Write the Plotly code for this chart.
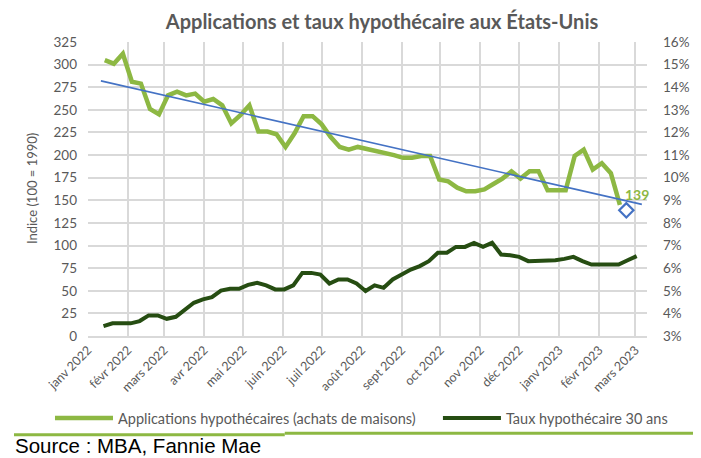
import pandas as pd
import plotly.graph_objects as go

TITLE = "Applications et taux hypothécaire aux États-Unis"
GREEN = "#8DB843"
DARK_GREEN = "#264D12"
BLUE = "#4472C4"
GRAY_TXT = "#595959"
GRID = "#D9D9D9"
FONT = "Lato"

# MBA purchase index (100 = 1990), weekly, Fridays from 2022-01-14
apps_dates = pd.date_range("2022-01-14", periods=58, freq="7D")
apps_values = [
    305, 301, 312,
    281, 279, 251, 245,
    266, 270, 266, 268,
    259, 262, 255, 235, 244,
    255, 226, 226, 223,
    209, 224, 243, 243,
    234, 220, 209, 206, 209,
    207, 205, 203, 200,
    197, 197, 199, 199, 173,
    171, 164, 160, 160,
    162, 168, 174, 182,
    174, 182, 182, 161, 161,
    161, 199, 206, 184,
    191, 180, 145,
]

# 30-year mortgage rate (%), weekly, Thursdays from 2022-01-13
rate_dates = pd.date_range("2022-01-13", periods=60, freq="7D")
rate_values = [
    3.44, 3.56, 3.56,
    3.56, 3.66, 3.91, 3.91,
    3.76, 3.85, 4.18, 4.47, 4.62,
    4.72, 5.01, 5.09, 5.09,
    5.26, 5.35, 5.24, 5.06,
    5.06, 5.24, 5.79, 5.79, 5.72,
    5.32, 5.50, 5.50, 5.32,
    4.99, 5.24, 5.13, 5.50,
    5.72, 5.94, 6.09, 6.31, 6.68,
    6.68, 6.94, 6.94, 7.12,
    6.94, 7.12, 6.60, 6.57,
    6.50, 6.31, 6.31, 6.31, 6.35,
    6.41, 6.50, 6.31, 6.16,
    6.16, 6.16, 6.16, 6.35,
    6.53,
]

# linear trend on the applications index (start / end)
trend_dates = ["2022-01-11", "2023-03-06"]
trend_values = [282, 145.5]

# latest reading, highlighted
latest_date = "2023-02-22"
latest_value = 139

month_ticks = pd.date_range("2022-01-01", "2023-03-01", freq="MS")
month_labels = [
    "janv 2022", "févr 2022", "mars 2022", "avr 2022", "mai 2022", "juin 2022",
    "juil 2022", "août 2022", "sept 2022", "oct 2022", "nov 2022", "déc 2022",
    "janv 2023", "févr 2023", "mars 2023",
]

fig = go.Figure()
fig.add_trace(go.Scatter(
    x=apps_dates, y=apps_values, mode="lines", legend="legend",
    name="Applications hypothécaires (achats de maisons)",
    line={"color": GREEN, "width": 4.5},
))
fig.add_trace(go.Scatter(
    x=rate_dates, y=rate_values, mode="lines", yaxis="y2", legend="legend2",
    name="Taux hypothécaire 30 ans",
    line={"color": DARK_GREEN, "width": 4},
))
fig.add_trace(go.Scatter(
    x=trend_dates, y=trend_values, mode="lines", showlegend=False,
    line={"color": BLUE, "width": 1.6},
))
fig.add_trace(go.Scatter(
    x=[latest_date], y=[latest_value], mode="markers", showlegend=False,
    marker={"symbol": "diamond-open", "size": 11, "color": BLUE, "line": {"width": 2.2, "color": BLUE}},
))

fig.add_annotation(
    x=latest_date, y=latest_value, text=f"<b>{latest_value}</b>", showarrow=False,
    xshift=11, yshift=16, font={"family": FONT, "size": 14, "color": GREEN},
)
fig.add_annotation(
    xref="paper", yref="paper", x=-0.100, y=0.5, xanchor="center", yanchor="middle",
    text="Indice (100 = 1990)", textangle=-90, showarrow=False,
    font={"family": FONT, "size": 13, "color": GRAY_TXT},
)
fig.add_annotation(
    xref="paper", yref="paper", x=-0.134, y=-0.374, xanchor="left", yanchor="middle",
    text="Source : MBA, Fannie Mae", showarrow=False,
    font={"family": "Liberation Sans", "size": 20.5, "color": "#000000"},
)

# green frame (right edge and bottom rule)
fig.add_shape(type="line", xref="paper", yref="paper", x0=1.0886, x1=1.0886, y0=1.15, y1=-0.333,
              line={"color": GREEN, "width": 3})
fig.add_shape(type="line", xref="paper", yref="paper", x0=-0.1324, x1=0.352, y0=-0.336, y1=-0.336,
              line={"color": GREEN, "width": 3})
fig.add_shape(type="line", xref="paper", yref="paper", x0=0.352, x1=1.0912, y0=-0.331, y1=-0.331,
              line={"color": GREEN, "width": 3})

legend_style = {
    "orientation": "h", "y": -0.279, "yanchor": "middle", "xanchor": "left",
    "font": {"family": FONT, "size": 14.5, "color": GRAY_TXT}, "itemwidth": 58,
    "bgcolor": "rgba(0,0,0,0)",
}

# the page body adds an 8px offset, so the figure is 8px smaller than the window
fig.update_layout(
    width=693,
    height=450,
    margin={"l": 80, "r": 54, "t": 34, "b": 122},
    paper_bgcolor="white",
    plot_bgcolor="white",
    font={"family": FONT, "color": GRAY_TXT},
    title={"text": f"<b>{TITLE}</b>", "x": 0.526, "xref": "paper", "xanchor": "center",
           "y": 0.969, "yref": "container", "yanchor": "middle",
           "font": {"family": FONT, "size": 20, "color": GRAY_TXT}},
    legend={**legend_style, "x": -0.068},
    legend2={**legend_style, "x": 0.626},
    showlegend=True,
)
fig.update_xaxes(
    type="date", range=["2022-01-01", "2023-03-10"],
    tickvals=month_ticks, ticktext=month_labels, tickangle=-45,
    tickfont={"family": FONT, "size": 12.5, "color": GRAY_TXT},
    showgrid=True, gridcolor=GRID, gridwidth=2,
    showline=True, linecolor=GRID, linewidth=2, zeroline=False,
)
fig.update_layout(
    yaxis={"range": [0, 325], "dtick": 25, "showgrid": True, "gridcolor": GRID, "gridwidth": 2,
           "zeroline": False, "tickfont": {"family": FONT, "size": 13.5, "color": GRAY_TXT},
           "ticklabelstandoff": 10},
    yaxis2={"range": [3, 16], "dtick": 1, "ticksuffix": "%", "overlaying": "y", "side": "right",
            "showgrid": False, "zeroline": False,
            "tickfont": {"family": FONT, "size": 13.5, "color": GRAY_TXT},
            "ticklabelstandoff": 15},
)

fig.write_html("out.html")
